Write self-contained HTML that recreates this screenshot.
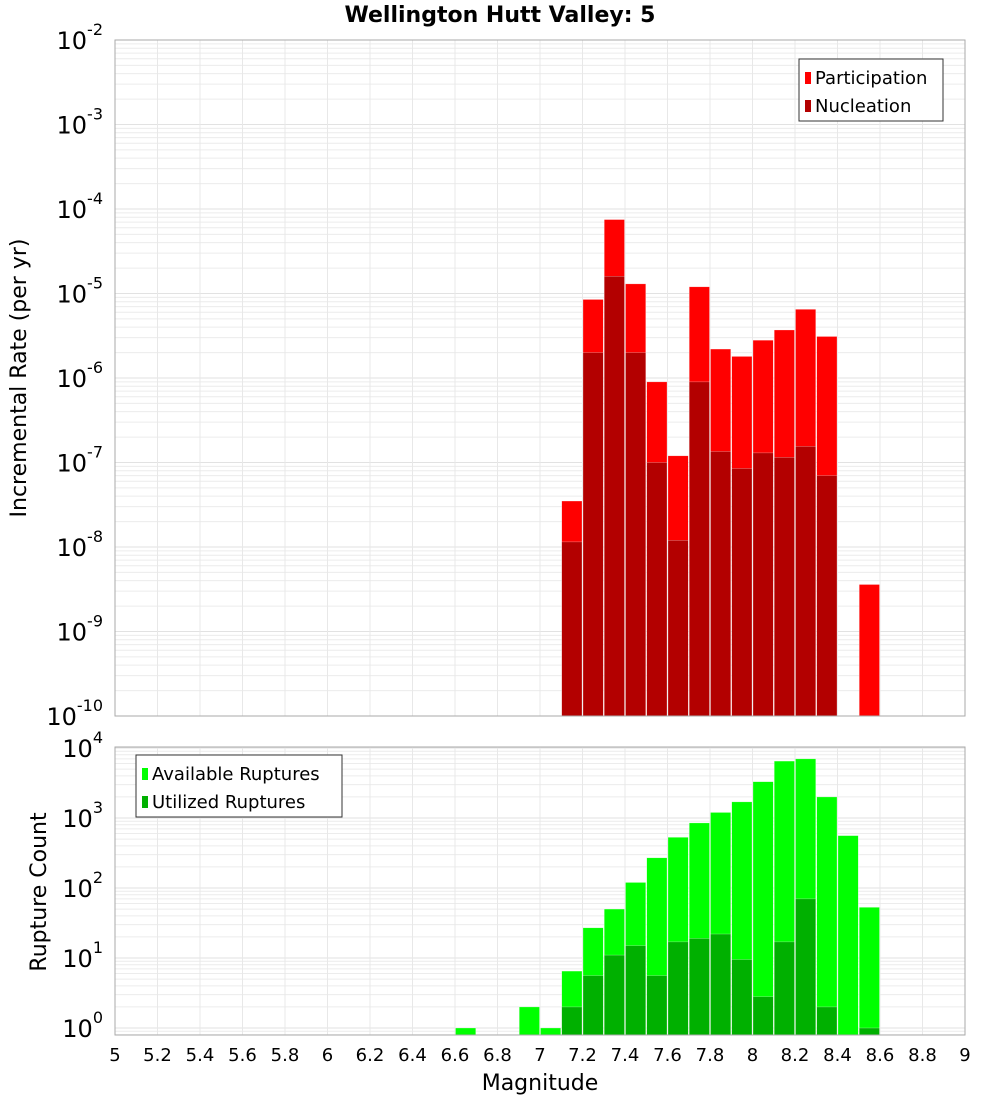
<!DOCTYPE html>
<html><head><meta charset="utf-8"><style>
body{margin:0;background:#fff;font-family:"DejaVu Sans","Liberation Sans",sans-serif;}
</style></head><body>
<svg id="c" width="1000" height="1100" xmlns="http://www.w3.org/2000/svg"></svg>
<script>
const mags=[6.6,6.9,7.0,7.1,7.2,7.3,7.4,7.5,7.6,7.7,7.8,7.9,8.0,8.1,8.2,8.3,8.4,8.5];
const partMags=[7.1,7.2,7.3,7.4,7.5,7.6,7.7,7.8,7.9,8.0,8.1,8.2,8.3,8.5];
const participation=[3.5e-8,8.5e-6,7.5e-5,1.3e-5,9e-7,1.2e-7,1.2e-5,2.2e-6,1.8e-6,2.8e-6,3.7e-6,6.5e-6,3.1e-6,3.6e-9];
const nucMags=[7.1,7.2,7.3,7.4,7.5,7.6,7.7,7.8,7.9,8.0,8.1,8.2,8.3];
const nucleation=[1.15e-8,2e-6,1.6e-5,2e-6,1e-7,1.2e-8,9e-7,1.35e-7,8.5e-8,1.3e-7,1.15e-7,1.55e-7,7e-8];
const availMags=[6.6,6.9,7.0,7.1,7.2,7.3,7.4,7.5,7.6,7.7,7.8,7.9,8.0,8.1,8.2,8.3,8.4,8.5];
const available=[1,2,1,6.5,27,50,120,270,530,850,1200,1700,3300,6500,7000,2000,560,53];
const utilMags=[7.1,7.2,7.3,7.4,7.5,7.6,7.7,7.8,7.9,8.0,8.1,8.2,8.3,8.5];
const utilized=[2,5.6,11,15,5.6,17,19,22,9.5,2.8,17,70,2,1];
const xTicks=[5,5.2,5.4,5.6,5.8,6,6.2,6.4,6.6,6.8,7,7.2,7.4,7.6,7.8,8,8.2,8.4,8.6,8.8,9];
const topExps=[-2,-3,-4,-5,-6,-7,-8,-9,-10];
const botExps=[4,3,2,1,0];

const svg=document.getElementById('c');const NS='http://www.w3.org/2000/svg';
function el(t,a,p){const e=document.createElementNS(NS,t);for(const k in a)e.setAttribute(k,a[k]);(p||svg).appendChild(e);return e;}
const L=115,R=965;
const x=m=>L+(m-5)*(R-L)/4;
const yTop=v=>40+84.5*(-2-Math.log10(v));
const yBot=v=>1028-70*Math.log10(v);
const T1=40,B1=716,T2=747,B2=1035;

function panel(top,bot,yf,lo,hi,name){
  const g=el('g',{});
  el('rect',{x:L,y:top,width:R-L,height:bot-top,fill:'#fff'},g);
  for(let e=lo;e<hi;e++)for(let k=1;k<10;k++){const yy=yf(k*Math.pow(10,e));if(yy<top||yy>bot)continue;
    el('line',{x1:L,x2:R,y1:yy,y2:yy,stroke:k==1?'#e2e2e2':'#ececec','stroke-width':1},g);}
  xTicks.forEach(t=>el('line',{x1:x(t),x2:x(t),y1:top,y2:bot,stroke:'#e8e8e8'},g));
  return g;
}
const g1=panel(T1,B1,yTop,-10,-1,'top-plot');
const g2=panel(T2,B2,yBot,-1,5,'bottom-plot');
const w=(R-L)/40;
function bars(ms,vs,yf,base,color,g,name){
  ms.forEach((m,i)=>{const yy=yf(vs[i]);const r=el('rect',{x:x(m)+0.5,y:yy,width:w-1,height:base-yy,fill:color,stroke:'#fff','stroke-opacity':0.5,'stroke-width':0.5},g);
    });
}
bars(partMags,participation,yTop,B1,'#ff0000',g1,'participation-bar');
bars(nucMags,nucleation,yTop,B1,'#b30000',g1,'nucleation-bar');
bars(availMags,available,yBot,B2,'#00ff00',g2,'available-bar');
bars(utilMags,utilized,yBot,B2,'#00b000',g2,'utilized-bar');
el('rect',{x:L,y:T1,width:R-L,height:B1-T1,fill:'none',stroke:'#aaa'});
el('rect',{x:L,y:T2,width:R-L,height:B2-T2,fill:'none',stroke:'#aaa'});

function txt(s,a,name){const t=el('text',a);t.textContent=s;return t;}
function pow(exp,yy,name){const t=el('text',{x:103,y:yy+9,'text-anchor':'end','font-size':24,fill:'#000'});
  
  const a=el('tspan',{},t);a.textContent='10';const b=el('tspan',{'font-size':16,dy:-14},t);b.textContent=exp;}
topExps.forEach(e=>pow(e,yTop(Math.pow(10,e)),'y-tick-label'));
botExps.forEach(e=>pow(e,yBot(Math.pow(10,e)),'y2-tick-label'));
xTicks.forEach(t=>txt(String(t),{x:x(t),y:1061,'text-anchor':'middle','font-size':18,fill:'#000'},'x-tick-label'));
txt('Wellington Hutt Valley: 5',{x:500,y:22,'text-anchor':'middle','font-size':22,'font-weight':'bold'},'chart-title');
txt('Magnitude',{x:540,y:1090,'text-anchor':'middle','font-size':22},'x-axis-title');
txt('Incremental Rate (per yr)',{x:0,y:0,'text-anchor':'middle','font-size':22,transform:'translate(26,378) rotate(-90)'},'y-axis-title');
txt('Rupture Count',{x:0,y:0,'text-anchor':'middle','font-size':22,transform:'translate(46,892) rotate(-90)'},'y2-axis-title');

function legend(x0,y0,wd,items,name){const g=el('g',{});
  el('rect',{x:x0,y:y0,width:wd,height:62,fill:'#fff',stroke:'#333'},g);
  items.forEach((it,i)=>{el('rect',{x:x0+6,y:y0+13+i*28,width:6,height:12,fill:it[1]},g);
    const t=el('text',{x:x0+16,y:y0+25+i*28,'font-size':18},g);t.textContent=it[0];});}
legend(799,59,144,[['Participation','#ff0000'],['Nucleation','#b30000']],'top-legend');
legend(136,755,206,[['Available Ruptures','#00ff00'],['Utilized Ruptures','#00b000']],'bottom-legend');
</script>
</body></html>
